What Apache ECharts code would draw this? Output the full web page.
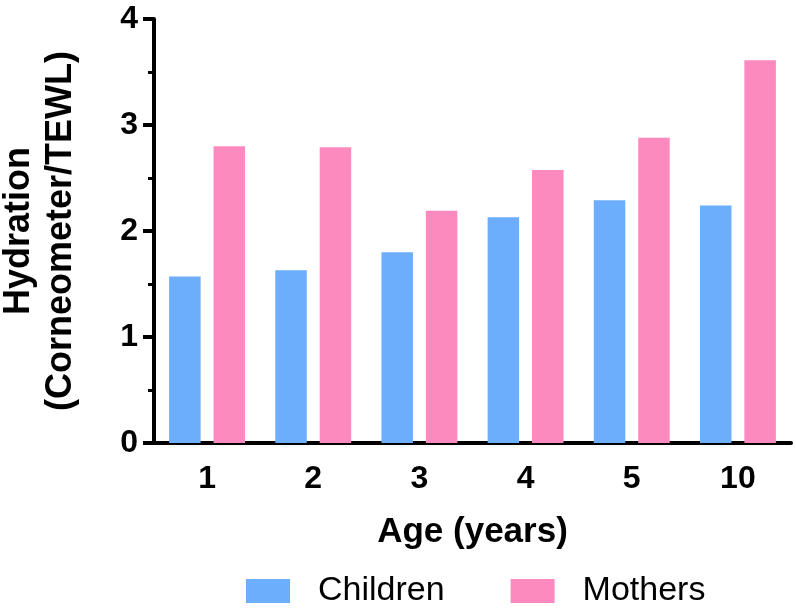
<!DOCTYPE html>
<html>
<head>
<meta charset="utf-8">
<script src="https://cdn.jsdelivr.net/npm/echarts@6/dist/echarts.min.js"></script>
<style>
html,body{margin:0;padding:0;background:#fff;}
#chart{width:796px;height:608px;}
</style>
</head>
<body>
<div id="chart"></div>
<script>
const categories = ['1', '2', '3', '4', '5', '10'];
const children = [1.57, 1.63, 1.80, 2.13, 2.29, 2.24];
const mothers = [2.80, 2.79, 2.19, 2.575, 2.88, 3.61];
const seriesNames = ['Children', 'Mothers'];
const yTicks = [0, 1, 2, 3, 4];

const FONT = '"Liberation Sans", Arial, Helvetica, sans-serif';
const chart = echarts.init(document.getElementById('chart'), null, {renderer: 'canvas'});
chart.setOption({
  animation: false,
  backgroundColor: '#ffffff',
  grid: {left: 154, top: 19, width: 637, height: 424, containLabel: false, outerBoundsMode: 'none'},
  legend: {
    data: seriesNames,
    left: 241,
    top: 569,
    itemWidth: 44,
    itemHeight: 24,
    itemGap: 66,
    icon: 'rect',
    textStyle: {fontFamily: FONT, fontSize: 34, color: '#000', lineHeight: 34, padding: [0, 0, 0, 23]}
  },
  xAxis: {
    type: 'category',
    data: categories,
    boundaryGap: true,
    name: 'Age (years)',
    nameLocation: 'middle',
    nameGap: 72,
    nameTextStyle: {fontFamily: FONT, fontWeight: 'bold', fontSize: 35, color: '#000', verticalAlign: 'top'},
    axisLine: {lineStyle: {color: '#000', width: 4}},
    axisTick: {alignWithLabel: true, length: 12, lineStyle: {color: '#000', width: 4}},
    axisLabel: {fontFamily: FONT, fontWeight: 'bold', fontSize: 32, color: '#000', margin: 20},
    splitLine: {show: false}
  },
  yAxis: {
    type: 'value',
    min: yTicks[0],
    max: yTicks[yTicks.length - 1],
    interval: 1,
    name: 'Hydration\n(Corneometer/TEWL)',
    nameLocation: 'middle',
    nameGap: 72,
    nameTextStyle: {fontFamily: FONT, fontWeight: 'bold', fontSize: 36, color: '#000', lineHeight: 42},
    axisLine: {show: true, lineStyle: {color: '#000', width: 4}},
    axisTick: {show: true, length: 11, lineStyle: {color: '#000', width: 4}},
    minorTick: {show: true, splitNumber: 2, length: 6, lineStyle: {color: '#000', width: 3}},
    axisLabel: {fontFamily: FONT, fontWeight: 'bold', fontSize: 32, color: '#000', margin: 16},
    splitLine: {show: false}
  },
  series: [
    {name: seriesNames[0], type: 'bar', data: children, barWidth: 31.5, barGap: '41%', itemStyle: {color: '#6caefc'}},
    {name: seriesNames[1], type: 'bar', data: mothers, barWidth: 31.5, itemStyle: {color: '#fd8abf'}}
  ]
});
</script>
</body>
</html>
